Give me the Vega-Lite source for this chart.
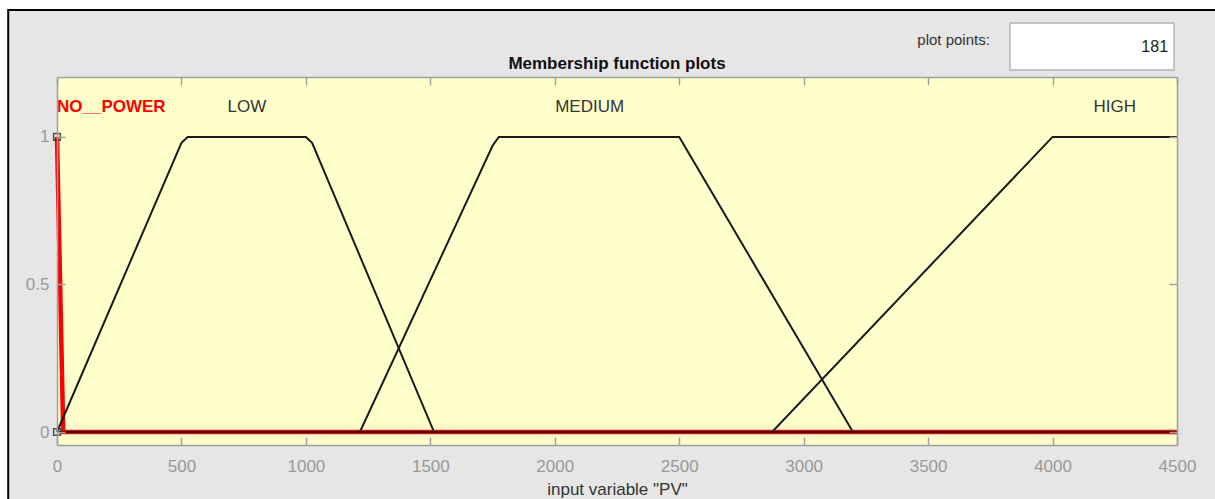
{
  "$schema": "https://vega.github.io/schema/vega-lite/v6.json",
  "width": 1120,
  "height": 368,
  "autosize": {"type": "none"},
  "padding": {"left": 57, "top": 77, "right": 38, "bottom": 54},
  "background": "white",
  "config": {
    "view": {"stroke": null},
    "axis": {
      "domain": true, "domainColor": "#a0a0a0", "domainWidth": 1.5,
      "grid": false, "ticks": true, "tickColor": "#a0a0a0", "tickSize": -8, "tickWidth": 1.5,
      "labelFont": "Liberation Sans", "labelFontSize": 17, "labelColor": "#999999", "labelFlush": false,
      "titleFont": "Liberation Sans", "titleFontSize": 17, "titleColor": "#333333", "titleFontWeight": "normal"
    }
  },
  "datasets": {
    "mf": [
      {"mf": "NO_POWER", "x": 0, "y": 1},
      {"mf": "NO_POWER", "x": 25, "y": 0},
      {"mf": "NO_POWER", "x": 4500, "y": 0},
      {"mf": "LOW", "x": 0, "y": 0},
      {"mf": "LOW", "x": 500, "y": 0.98},
      {"mf": "LOW", "x": 525, "y": 1},
      {"mf": "LOW", "x": 1000, "y": 1},
      {"mf": "LOW", "x": 1025, "y": 0.98},
      {"mf": "LOW", "x": 1515, "y": 0},
      {"mf": "LOW", "x": 4500, "y": 0},
      {"mf": "MEDIUM", "x": 0, "y": 0},
      {"mf": "MEDIUM", "x": 1217, "y": 0},
      {"mf": "MEDIUM", "x": 1750, "y": 0.97},
      {"mf": "MEDIUM", "x": 1775, "y": 1},
      {"mf": "MEDIUM", "x": 2500, "y": 1},
      {"mf": "MEDIUM", "x": 3198, "y": 0},
      {"mf": "MEDIUM", "x": 4500, "y": 0},
      {"mf": "HIGH", "x": 0, "y": 0},
      {"mf": "HIGH", "x": 2873, "y": 0},
      {"mf": "HIGH", "x": 4000, "y": 1},
      {"mf": "HIGH", "x": 4500, "y": 1}
    ],
    "labels": [
      {"label": "NO__POWER", "x": 0, "selected": true},
      {"label": "LOW", "x": 763, "selected": false},
      {"label": "MEDIUM", "x": 2140, "selected": false},
      {"label": "HIGH", "x": 4250, "selected": false}
    ],
    "handles": [
      {"x": 0, "y": 1},
      {"x": 0, "y": 0}
    ],
    "ui": [
      {"title": "Membership function plots", "caption": "plot points:", "value": "181"}
    ]
  },
  "resolve": {"axis": {"x": "independent", "y": "independent"}},
  "layer": [
    {
      "data": {"name": "ui"},
      "mark": {"type": "rect", "fill": "#e6e6e6", "stroke": "#000000", "strokeWidth": 2},
      "encoding": {
        "x": {"datum": -196, "type": "quantitative", "scale": {"domain": [0, 4500], "nice": false, "zero": false}, "axis": null},
        "x2": {"datum": 6000},
        "y": {"datum": 1.43, "type": "quantitative", "scale": {"domain": [-0.044, 1.203], "nice": false, "zero": false}, "axis": null},
        "y2": {"datum": -1}
      }
    },
    {
      "data": {"name": "ui"},
      "mark": {"type": "rect", "fill": "#ffffcc"},
      "encoding": {
        "x": {"datum": 0, "type": "quantitative", "scale": {"domain": [0, 4500], "nice": false, "zero": false},
              "axis": {"orient": "bottom", "zindex": 2, "values": [0, 500, 1000, 1500, 2000, 2500, 3000, 3500, 4000, 4500], "format": "d", "labelPadding": 21, "labelFlush": false, "title": "input variable \"PV\"", "titlePadding": 7}},
        "x2": {"datum": 4500},
        "y": {"datum": -0.044, "type": "quantitative", "scale": {"domain": [-0.044, 1.203], "nice": false, "zero": false},
              "axis": {"orient": "left", "zindex": 2, "values": [0, 0.5, 1], "format": "~g", "labelPadding": 16, "labelFlush": false, "title": null}},
        "y2": {"datum": 1.203}
      }
    },
    {
      "data": {"name": "mf"},
      "transform": [{"filter": "datum.mf === 'NO_POWER'"}],
      "mark": {"type": "line", "color": "#ff0000", "strokeWidth": 4.5, "clip": false},
      "encoding": {
        "x": {"field": "x", "type": "quantitative", "scale": {"domain": [0, 4500], "nice": false, "zero": false},
              "axis": {"orient": "top", "zindex": 2, "values": [0, 500, 1000, 1500, 2000, 2500, 3000, 3500, 4000, 4500], "labels": false, "title": null}},
        "y": {"field": "y", "type": "quantitative", "scale": {"domain": [-0.044, 1.203], "nice": false, "zero": false},
              "axis": {"orient": "right", "zindex": 2, "values": [0, 0.5, 1], "labels": false, "title": null}}
      }
    },
    {
      "data": {"name": "mf"},
      "transform": [{"filter": "datum.mf !== 'NO_POWER'"}],
      "mark": {"type": "line", "color": "#1a1a1a", "strokeWidth": 2},
      "encoding": {
        "x": {"field": "x", "type": "quantitative", "scale": {"domain": [0, 4500], "nice": false, "zero": false}, "axis": null},
        "y": {"field": "y", "type": "quantitative", "scale": {"domain": [-0.044, 1.203], "nice": false, "zero": false}, "axis": null},
        "detail": {"field": "mf"}
      }
    },
    {
      "data": {"name": "handles"},
      "mark": {"type": "point", "shape": "square", "filled": false, "size": 45, "stroke": "#111111", "strokeWidth": 1.5},
      "encoding": {
        "x": {"field": "x", "type": "quantitative", "scale": {"domain": [0, 4500], "nice": false, "zero": false}, "axis": null},
        "y": {"field": "y", "type": "quantitative", "scale": {"domain": [-0.044, 1.203], "nice": false, "zero": false}, "axis": null}
      }
    },
    {
      "data": {"name": "labels"},
      "transform": [{"filter": "!datum.selected"}],
      "mark": {"type": "text", "font": "Liberation Sans", "fontSize": 17, "color": "#333333", "align": "center", "baseline": "middle"},
      "encoding": {
        "x": {"field": "x", "type": "quantitative", "scale": {"domain": [0, 4500], "nice": false, "zero": false}, "axis": null},
        "y": {"datum": 1.1, "type": "quantitative", "scale": {"domain": [-0.044, 1.203], "nice": false, "zero": false}, "axis": null},
        "text": {"field": "label"}
      }
    },
    {
      "data": {"name": "labels"},
      "transform": [{"filter": "datum.selected"}],
      "mark": {"type": "text", "font": "Liberation Sans", "fontSize": 17, "fontWeight": "bold", "color": "#ff0000", "align": "left", "baseline": "middle"},
      "encoding": {
        "x": {"field": "x", "type": "quantitative", "scale": {"domain": [0, 4500], "nice": false, "zero": false}, "axis": null},
        "y": {"datum": 1.1, "type": "quantitative", "scale": {"domain": [-0.044, 1.203], "nice": false, "zero": false}, "axis": null},
        "text": {"field": "label"}
      }
    },
    {
      "data": {"name": "ui"},
      "mark": {"type": "text", "font": "Liberation Sans", "fontSize": 17, "fontWeight": "bold", "color": "#111111", "align": "center", "baseline": "alphabetic"},
      "encoding": {
        "x": {"datum": 2250, "type": "quantitative", "scale": {"domain": [0, 4500], "nice": false, "zero": false}, "axis": null},
        "y": {"datum": 1.230, "type": "quantitative", "scale": {"domain": [-0.044, 1.203], "nice": false, "zero": false}, "axis": null},
        "text": {"field": "title"}
      }
    },
    {
      "data": {"name": "ui"},
      "mark": {"type": "rect", "fill": "#ffffff", "stroke": "#b4b4b4", "strokeWidth": 1.5, "clip": false},
      "encoding": {
        "x": {"datum": 3829, "type": "quantitative", "scale": {"domain": [0, 4500], "nice": false, "zero": false}, "axis": null},
        "x2": {"datum": 4488},
        "y": {"datum": 1.386, "type": "quantitative", "scale": {"domain": [-0.044, 1.203], "nice": false, "zero": false}, "axis": null},
        "y2": {"datum": 1.227}
      }
    },
    {
      "data": {"name": "ui"},
      "mark": {"type": "text", "font": "Liberation Sans", "fontSize": 15, "color": "#333333", "align": "right", "baseline": "middle"},
      "encoding": {
        "x": {"datum": 3748, "type": "quantitative", "scale": {"domain": [0, 4500], "nice": false, "zero": false}, "axis": null},
        "y": {"datum": 1.328, "type": "quantitative", "scale": {"domain": [-0.044, 1.203], "nice": false, "zero": false}, "axis": null},
        "text": {"field": "caption"}
      }
    },
    {
      "data": {"name": "ui"},
      "mark": {"type": "text", "font": "Liberation Sans", "fontSize": 16, "color": "#222222", "align": "right", "baseline": "middle"},
      "encoding": {
        "x": {"datum": 4464, "type": "quantitative", "scale": {"domain": [0, 4500], "nice": false, "zero": false}, "axis": null},
        "y": {"datum": 1.305, "type": "quantitative", "scale": {"domain": [-0.044, 1.203], "nice": false, "zero": false}, "axis": null},
        "text": {"field": "value"}
      }
    }
  ]
}
